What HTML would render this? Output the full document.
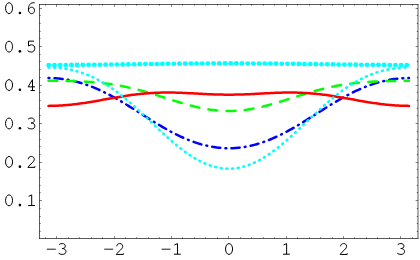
<!DOCTYPE html>
<html><head><meta charset="utf-8"><style>
html,body{margin:0;padding:0;background:#fff;}
body{width:420px;height:260px;overflow:hidden;font-family:"Liberation Mono",monospace;}
svg{display:block;}
</style></head><body>
<svg width="420" height="260" viewBox="0 0 420 260">
<rect width="420" height="260" fill="#fff"/>
<g fill="none" stroke-linejoin="round" stroke-linecap="round">
<path d="M48.52,78.05 L50.02,78.06 L51.52,78.09 L53.02,78.15 L54.52,78.22 L56.03,78.31 L57.53,78.43 L59.03,78.57 L60.53,78.73 L62.03,78.90 L63.54,79.11 L65.04,79.33 L66.54,79.57 L68.04,79.83 L69.54,80.12 L71.05,80.42 L72.55,80.75 L74.05,81.09 L75.55,81.46 L77.05,81.85 L78.56,82.26 L80.06,82.68 L81.56,83.13 L83.06,83.60 L84.56,84.09 L86.07,84.60 L87.57,85.13 L89.07,85.68 L90.57,86.24 L92.07,86.83 L93.58,87.43 L95.08,88.06 L96.58,88.70 L98.08,89.36 L99.58,90.04 L101.08,90.73 L102.59,91.44 L104.09,92.17 L105.59,92.91 L107.09,93.67 L108.59,94.45 L110.10,95.23 L111.60,96.04 L113.10,96.85 L114.60,97.68 L116.10,98.53 L117.61,99.38 L119.11,100.25 L120.61,101.12 L122.11,102.01 L123.61,102.90 L125.12,103.81 L126.62,104.72 L128.12,105.64 L129.62,106.57 L131.12,107.50 L132.63,108.44 L134.13,109.38 L135.63,110.32 L137.13,111.27 L138.63,112.22 L140.14,113.17 L141.64,114.13 L143.14,115.08 L144.64,116.03 L146.14,116.98 L147.65,117.92 L149.15,118.87 L150.65,119.80 L152.15,120.74 L153.65,121.66 L155.15,122.58 L156.66,123.50 L158.16,124.40 L159.66,125.30 L161.16,126.19 L162.66,127.07 L164.17,127.93 L165.67,128.79 L167.17,129.63 L168.67,130.46 L170.17,131.28 L171.68,132.08 L173.18,132.87 L174.68,133.64 L176.18,134.40 L177.68,135.14 L179.19,135.86 L180.69,136.57 L182.19,137.26 L183.69,137.93 L185.19,138.58 L186.70,139.22 L188.20,139.83 L189.70,140.43 L191.20,141.00 L192.70,141.56 L194.21,142.09 L195.71,142.61 L197.21,143.10 L198.71,143.57 L200.21,144.02 L201.72,144.45 L203.22,144.85 L204.72,145.23 L206.22,145.60 L207.72,145.93 L209.22,146.25 L210.73,146.54 L212.23,146.81 L213.73,147.06 L215.23,147.28 L216.73,147.48 L218.24,147.66 L219.74,147.81 L221.24,147.94 L222.74,148.05 L224.24,148.13 L225.75,148.19 L227.25,148.22 L228.75,148.23 L230.25,148.22 L231.75,148.19 L233.26,148.13 L234.76,148.05 L236.26,147.94 L237.76,147.81 L239.26,147.66 L240.77,147.48 L242.27,147.28 L243.77,147.06 L245.27,146.81 L246.77,146.54 L248.28,146.25 L249.78,145.93 L251.28,145.60 L252.78,145.23 L254.28,144.85 L255.78,144.45 L257.29,144.02 L258.79,143.57 L260.29,143.10 L261.79,142.61 L263.29,142.09 L264.80,141.56 L266.30,141.00 L267.80,140.43 L269.30,139.83 L270.80,139.22 L272.31,138.58 L273.81,137.93 L275.31,137.26 L276.81,136.57 L278.31,135.86 L279.82,135.14 L281.32,134.40 L282.82,133.64 L284.32,132.87 L285.82,132.08 L287.33,131.28 L288.83,130.46 L290.33,129.63 L291.83,128.79 L293.33,127.93 L294.84,127.07 L296.34,126.19 L297.84,125.30 L299.34,124.40 L300.84,123.50 L302.35,122.58 L303.85,121.66 L305.35,120.74 L306.85,119.80 L308.35,118.87 L309.85,117.92 L311.36,116.98 L312.86,116.03 L314.36,115.08 L315.86,114.13 L317.36,113.17 L318.87,112.22 L320.37,111.27 L321.87,110.32 L323.37,109.38 L324.87,108.44 L326.38,107.50 L327.88,106.57 L329.38,105.64 L330.88,104.72 L332.38,103.81 L333.89,102.90 L335.39,102.01 L336.89,101.12 L338.39,100.25 L339.89,99.38 L341.40,98.53 L342.90,97.68 L344.40,96.85 L345.90,96.04 L347.40,95.23 L348.91,94.45 L350.41,93.67 L351.91,92.91 L353.41,92.17 L354.91,91.44 L356.42,90.73 L357.92,90.04 L359.42,89.36 L360.92,88.70 L362.42,88.06 L363.92,87.43 L365.43,86.83 L366.93,86.24 L368.43,85.68 L369.93,85.13 L371.43,84.60 L372.94,84.09 L374.44,83.60 L375.94,83.13 L377.44,82.68 L378.94,82.26 L380.45,81.85 L381.95,81.46 L383.45,81.09 L384.95,80.75 L386.45,80.42 L387.96,80.12 L389.46,79.83 L390.96,79.57 L392.46,79.33 L393.96,79.11 L395.47,78.90 L396.97,78.73 L398.47,78.57 L399.97,78.43 L401.47,78.31 L402.98,78.22 L404.48,78.15 L405.98,78.09 L407.48,78.06 L408.98,78.05" stroke="#0000ff" stroke-width="2.5" stroke-dasharray="0.9 5.1 8.2 5.1"/>
<path d="M48.52,80.79 L50.02,80.79 L51.52,80.79 L53.02,80.80 L54.52,80.81 L56.03,80.82 L57.53,80.83 L59.03,80.84 L60.53,80.86 L62.03,80.88 L63.54,80.90 L65.04,80.93 L66.54,80.96 L68.04,80.99 L69.54,81.02 L71.05,81.06 L72.55,81.10 L74.05,81.15 L75.55,81.20 L77.05,81.26 L78.56,81.32 L80.06,81.38 L81.56,81.45 L83.06,81.52 L84.56,81.61 L86.07,81.69 L87.57,81.78 L89.07,81.88 L90.57,81.99 L92.07,82.10 L93.58,82.22 L95.08,82.35 L96.58,82.48 L98.08,82.62 L99.58,82.77 L101.08,82.93 L102.59,83.10 L104.09,83.27 L105.59,83.46 L107.09,83.65 L108.59,83.85 L110.10,84.06 L111.60,84.28 L113.10,84.52 L114.60,84.76 L116.10,85.00 L117.61,85.26 L119.11,85.53 L120.61,85.81 L122.11,86.10 L123.61,86.40 L125.12,86.71 L126.62,87.03 L128.12,87.36 L129.62,87.69 L131.12,88.04 L132.63,88.40 L134.13,88.76 L135.63,89.14 L137.13,89.52 L138.63,89.91 L140.14,90.31 L141.64,90.72 L143.14,91.13 L144.64,91.56 L146.14,91.98 L147.65,92.42 L149.15,92.86 L150.65,93.31 L152.15,93.76 L153.65,94.22 L155.15,94.69 L156.66,95.15 L158.16,95.62 L159.66,96.09 L161.16,96.57 L162.66,97.05 L164.17,97.53 L165.67,98.00 L167.17,98.48 L168.67,98.96 L170.17,99.44 L171.68,99.92 L173.18,100.39 L174.68,100.86 L176.18,101.33 L177.68,101.79 L179.19,102.25 L180.69,102.70 L182.19,103.15 L183.69,103.59 L185.19,104.02 L186.70,104.45 L188.20,104.86 L189.70,105.27 L191.20,105.67 L192.70,106.05 L194.21,106.43 L195.71,106.80 L197.21,107.15 L198.71,107.49 L200.21,107.81 L201.72,108.13 L203.22,108.43 L204.72,108.71 L206.22,108.98 L207.72,109.24 L209.22,109.48 L210.73,109.70 L212.23,109.90 L213.73,110.09 L215.23,110.27 L216.73,110.42 L218.24,110.56 L219.74,110.68 L221.24,110.78 L222.74,110.86 L224.24,110.93 L225.75,110.97 L227.25,111.00 L228.75,111.01 L230.25,111.00 L231.75,110.97 L233.26,110.93 L234.76,110.86 L236.26,110.78 L237.76,110.68 L239.26,110.56 L240.77,110.42 L242.27,110.27 L243.77,110.09 L245.27,109.90 L246.77,109.70 L248.28,109.48 L249.78,109.24 L251.28,108.98 L252.78,108.71 L254.28,108.43 L255.78,108.13 L257.29,107.81 L258.79,107.49 L260.29,107.15 L261.79,106.80 L263.29,106.43 L264.80,106.05 L266.30,105.67 L267.80,105.27 L269.30,104.86 L270.80,104.45 L272.31,104.02 L273.81,103.59 L275.31,103.15 L276.81,102.70 L278.31,102.25 L279.82,101.79 L281.32,101.33 L282.82,100.86 L284.32,100.39 L285.82,99.92 L287.33,99.44 L288.83,98.96 L290.33,98.48 L291.83,98.00 L293.33,97.53 L294.84,97.05 L296.34,96.57 L297.84,96.09 L299.34,95.62 L300.84,95.15 L302.35,94.69 L303.85,94.22 L305.35,93.76 L306.85,93.31 L308.35,92.86 L309.85,92.42 L311.36,91.98 L312.86,91.56 L314.36,91.13 L315.86,90.72 L317.36,90.31 L318.87,89.91 L320.37,89.52 L321.87,89.14 L323.37,88.76 L324.87,88.40 L326.38,88.04 L327.88,87.69 L329.38,87.36 L330.88,87.03 L332.38,86.71 L333.89,86.40 L335.39,86.10 L336.89,85.81 L338.39,85.53 L339.89,85.26 L341.40,85.00 L342.90,84.76 L344.40,84.52 L345.90,84.28 L347.40,84.06 L348.91,83.85 L350.41,83.65 L351.91,83.46 L353.41,83.27 L354.91,83.10 L356.42,82.93 L357.92,82.77 L359.42,82.62 L360.92,82.48 L362.42,82.35 L363.92,82.22 L365.43,82.10 L366.93,81.99 L368.43,81.88 L369.93,81.78 L371.43,81.69 L372.94,81.61 L374.44,81.52 L375.94,81.45 L377.44,81.38 L378.94,81.32 L380.45,81.26 L381.95,81.20 L383.45,81.15 L384.95,81.10 L386.45,81.06 L387.96,81.02 L389.46,80.99 L390.96,80.96 L392.46,80.93 L393.96,80.90 L395.47,80.88 L396.97,80.86 L398.47,80.84 L399.97,80.83 L401.47,80.82 L402.98,80.81 L404.48,80.80 L405.98,80.79 L407.48,80.79 L408.98,80.79" stroke="#00ff00" stroke-width="2.5" stroke-dasharray="8.8 9.36"/>
<path d="M48.52,105.88 L50.02,105.87 L51.52,105.86 L53.02,105.83 L54.52,105.79 L56.03,105.74 L57.53,105.68 L59.03,105.61 L60.53,105.52 L62.03,105.43 L63.54,105.33 L65.04,105.21 L66.54,105.09 L68.04,104.96 L69.54,104.81 L71.05,104.66 L72.55,104.50 L74.05,104.33 L75.55,104.15 L77.05,103.96 L78.56,103.77 L80.06,103.56 L81.56,103.35 L83.06,103.13 L84.56,102.91 L86.07,102.68 L87.57,102.44 L89.07,102.20 L90.57,101.96 L92.07,101.70 L93.58,101.45 L95.08,101.19 L96.58,100.93 L98.08,100.66 L99.58,100.40 L101.08,100.13 L102.59,99.85 L104.09,99.58 L105.59,99.31 L107.09,99.04 L108.59,98.77 L110.10,98.50 L111.60,98.23 L113.10,97.96 L114.60,97.69 L116.10,97.43 L117.61,97.17 L119.11,96.92 L120.61,96.67 L122.11,96.42 L123.61,96.18 L125.12,95.94 L126.62,95.71 L128.12,95.49 L129.62,95.27 L131.12,95.06 L132.63,94.85 L134.13,94.66 L135.63,94.47 L137.13,94.29 L138.63,94.12 L140.14,93.95 L141.64,93.80 L143.14,93.65 L144.64,93.51 L146.14,93.38 L147.65,93.26 L149.15,93.15 L150.65,93.05 L152.15,92.96 L153.65,92.88 L155.15,92.80 L156.66,92.74 L158.16,92.68 L159.66,92.64 L161.16,92.60 L162.66,92.57 L164.17,92.55 L165.67,92.54 L167.17,92.53 L168.67,92.54 L170.17,92.55 L171.68,92.57 L173.18,92.59 L174.68,92.62 L176.18,92.66 L177.68,92.71 L179.19,92.76 L180.69,92.81 L182.19,92.87 L183.69,92.93 L185.19,93.00 L186.70,93.07 L188.20,93.14 L189.70,93.21 L191.20,93.29 L192.70,93.37 L194.21,93.45 L195.71,93.53 L197.21,93.61 L198.71,93.69 L200.21,93.77 L201.72,93.85 L203.22,93.92 L204.72,94.00 L206.22,94.07 L207.72,94.14 L209.22,94.20 L210.73,94.26 L212.23,94.32 L213.73,94.38 L215.23,94.43 L216.73,94.47 L218.24,94.51 L219.74,94.55 L221.24,94.58 L222.74,94.61 L224.24,94.63 L225.75,94.64 L227.25,94.65 L228.75,94.65 L230.25,94.65 L231.75,94.64 L233.26,94.63 L234.76,94.61 L236.26,94.58 L237.76,94.55 L239.26,94.51 L240.77,94.47 L242.27,94.43 L243.77,94.38 L245.27,94.32 L246.77,94.26 L248.28,94.20 L249.78,94.14 L251.28,94.07 L252.78,94.00 L254.28,93.92 L255.78,93.85 L257.29,93.77 L258.79,93.69 L260.29,93.61 L261.79,93.53 L263.29,93.45 L264.80,93.37 L266.30,93.29 L267.80,93.21 L269.30,93.14 L270.80,93.07 L272.31,93.00 L273.81,92.93 L275.31,92.87 L276.81,92.81 L278.31,92.76 L279.82,92.71 L281.32,92.66 L282.82,92.62 L284.32,92.59 L285.82,92.57 L287.33,92.55 L288.83,92.54 L290.33,92.53 L291.83,92.54 L293.33,92.55 L294.84,92.57 L296.34,92.60 L297.84,92.64 L299.34,92.68 L300.84,92.74 L302.35,92.80 L303.85,92.88 L305.35,92.96 L306.85,93.05 L308.35,93.15 L309.85,93.26 L311.36,93.38 L312.86,93.51 L314.36,93.65 L315.86,93.80 L317.36,93.95 L318.87,94.12 L320.37,94.29 L321.87,94.47 L323.37,94.66 L324.87,94.85 L326.38,95.06 L327.88,95.27 L329.38,95.49 L330.88,95.71 L332.38,95.94 L333.89,96.18 L335.39,96.42 L336.89,96.67 L338.39,96.92 L339.89,97.17 L341.40,97.43 L342.90,97.69 L344.40,97.96 L345.90,98.23 L347.40,98.50 L348.91,98.77 L350.41,99.04 L351.91,99.31 L353.41,99.58 L354.91,99.85 L356.42,100.13 L357.92,100.40 L359.42,100.66 L360.92,100.93 L362.42,101.19 L363.92,101.45 L365.43,101.70 L366.93,101.96 L368.43,102.20 L369.93,102.44 L371.43,102.68 L372.94,102.91 L374.44,103.13 L375.94,103.35 L377.44,103.56 L378.94,103.77 L380.45,103.96 L381.95,104.15 L383.45,104.33 L384.95,104.50 L386.45,104.66 L387.96,104.81 L389.46,104.96 L390.96,105.09 L392.46,105.21 L393.96,105.33 L395.47,105.43 L396.97,105.52 L398.47,105.61 L399.97,105.68 L401.47,105.74 L402.98,105.79 L404.48,105.83 L405.98,105.86 L407.48,105.87 L408.98,105.88" stroke="#ff0000" stroke-width="2.5"/>
<path d="M48.52,67.43 L50.02,67.44 L51.52,67.47 L53.02,67.52 L54.52,67.60 L56.03,67.69 L57.53,67.81 L59.03,67.94 L60.53,68.10 L62.03,68.28 L63.54,68.49 L65.04,68.71 L66.54,68.96 L68.04,69.23 L69.54,69.52 L71.05,69.84 L72.55,70.18 L74.05,70.54 L75.55,70.93 L77.05,71.34 L78.56,71.78 L80.06,72.24 L81.56,72.72 L83.06,73.24 L84.56,73.78 L86.07,74.34 L87.57,74.93 L89.07,75.55 L90.57,76.20 L92.07,76.87 L93.58,77.57 L95.08,78.29 L96.58,79.05 L98.08,79.83 L99.58,80.64 L101.08,81.47 L102.59,82.34 L104.09,83.23 L105.59,84.15 L107.09,85.09 L108.59,86.06 L110.10,87.06 L111.60,88.09 L113.10,89.14 L114.60,90.21 L116.10,91.31 L117.61,92.43 L119.11,93.58 L120.61,94.75 L122.11,95.95 L123.61,97.16 L125.12,98.40 L126.62,99.65 L128.12,100.93 L129.62,102.22 L131.12,103.53 L132.63,104.85 L134.13,106.20 L135.63,107.55 L137.13,108.92 L138.63,110.30 L140.14,111.69 L141.64,113.09 L143.14,114.50 L144.64,115.92 L146.14,117.34 L147.65,118.76 L149.15,120.19 L150.65,121.62 L152.15,123.05 L153.65,124.48 L155.15,125.91 L156.66,127.33 L158.16,128.75 L159.66,130.16 L161.16,131.56 L162.66,132.96 L164.17,134.34 L165.67,135.72 L167.17,137.08 L168.67,138.42 L170.17,139.75 L171.68,141.06 L173.18,142.36 L174.68,143.63 L176.18,144.88 L177.68,146.12 L179.19,147.32 L180.69,148.51 L182.19,149.67 L183.69,150.80 L185.19,151.91 L186.70,152.98 L188.20,154.03 L189.70,155.05 L191.20,156.04 L192.70,156.99 L194.21,157.91 L195.71,158.80 L197.21,159.66 L198.71,160.48 L200.21,161.26 L201.72,162.01 L203.22,162.72 L204.72,163.39 L206.22,164.02 L207.72,164.62 L209.22,165.18 L210.73,165.69 L212.23,166.17 L213.73,166.61 L215.23,167.01 L216.73,167.36 L218.24,167.68 L219.74,167.95 L221.24,168.18 L222.74,168.37 L224.24,168.52 L225.75,168.62 L227.25,168.69 L228.75,168.71 L230.25,168.69 L231.75,168.62 L233.26,168.52 L234.76,168.37 L236.26,168.18 L237.76,167.95 L239.26,167.68 L240.77,167.36 L242.27,167.01 L243.77,166.61 L245.27,166.17 L246.77,165.69 L248.28,165.18 L249.78,164.62 L251.28,164.02 L252.78,163.39 L254.28,162.72 L255.78,162.01 L257.29,161.26 L258.79,160.48 L260.29,159.66 L261.79,158.80 L263.29,157.91 L264.80,156.99 L266.30,156.04 L267.80,155.05 L269.30,154.03 L270.80,152.98 L272.31,151.91 L273.81,150.80 L275.31,149.67 L276.81,148.51 L278.31,147.32 L279.82,146.12 L281.32,144.88 L282.82,143.63 L284.32,142.36 L285.82,141.06 L287.33,139.75 L288.83,138.42 L290.33,137.08 L291.83,135.72 L293.33,134.34 L294.84,132.96 L296.34,131.56 L297.84,130.16 L299.34,128.75 L300.84,127.33 L302.35,125.91 L303.85,124.48 L305.35,123.05 L306.85,121.62 L308.35,120.19 L309.85,118.76 L311.36,117.34 L312.86,115.92 L314.36,114.50 L315.86,113.09 L317.36,111.69 L318.87,110.30 L320.37,108.92 L321.87,107.55 L323.37,106.20 L324.87,104.85 L326.38,103.53 L327.88,102.22 L329.38,100.93 L330.88,99.65 L332.38,98.40 L333.89,97.16 L335.39,95.95 L336.89,94.75 L338.39,93.58 L339.89,92.43 L341.40,91.31 L342.90,90.21 L344.40,89.14 L345.90,88.09 L347.40,87.06 L348.91,86.06 L350.41,85.09 L351.91,84.15 L353.41,83.23 L354.91,82.34 L356.42,81.47 L357.92,80.64 L359.42,79.83 L360.92,79.05 L362.42,78.29 L363.92,77.57 L365.43,76.87 L366.93,76.20 L368.43,75.55 L369.93,74.93 L371.43,74.34 L372.94,73.78 L374.44,73.24 L375.94,72.72 L377.44,72.24 L378.94,71.78 L380.45,71.34 L381.95,70.93 L383.45,70.54 L384.95,70.18 L386.45,69.84 L387.96,69.52 L389.46,69.23 L390.96,68.96 L392.46,68.71 L393.96,68.49 L395.47,68.28 L396.97,68.10 L398.47,67.94 L399.97,67.81 L401.47,67.69 L402.98,67.60 L404.48,67.52 L405.98,67.47 L407.48,67.44 L408.98,67.43" stroke="#00ffff" stroke-width="2.6" stroke-dasharray="0.9 4.78"/>
</g>
<g fill="#00ffff" stroke="none">
<ellipse cx="48.75" cy="64.98" rx="2.5" ry="2.3"/><ellipse cx="54.43" cy="64.98" rx="2.5" ry="2.3"/><ellipse cx="60.12" cy="64.97" rx="2.5" ry="2.3"/><ellipse cx="65.80" cy="64.95" rx="2.5" ry="2.3"/><ellipse cx="71.49" cy="64.92" rx="2.5" ry="2.3"/><ellipse cx="77.17" cy="64.89" rx="2.5" ry="2.3"/><ellipse cx="82.85" cy="64.84" rx="2.5" ry="2.3"/><ellipse cx="88.54" cy="64.80" rx="2.5" ry="2.3"/><ellipse cx="94.22" cy="64.74" rx="2.5" ry="2.3"/><ellipse cx="99.91" cy="64.68" rx="2.5" ry="2.3"/><ellipse cx="105.59" cy="64.62" rx="2.5" ry="2.3"/><ellipse cx="111.27" cy="64.55" rx="2.5" ry="2.3"/><ellipse cx="116.96" cy="64.48" rx="2.5" ry="2.3"/><ellipse cx="122.64" cy="64.41" rx="2.5" ry="2.3"/><ellipse cx="128.33" cy="64.33" rx="2.5" ry="2.3"/><ellipse cx="134.01" cy="64.25" rx="2.5" ry="2.3"/><ellipse cx="139.69" cy="64.17" rx="2.5" ry="2.3"/><ellipse cx="145.38" cy="64.10" rx="2.5" ry="2.3"/><ellipse cx="151.06" cy="64.02" rx="2.5" ry="2.3"/><ellipse cx="156.75" cy="63.94" rx="2.5" ry="2.3"/><ellipse cx="162.43" cy="63.87" rx="2.5" ry="2.3"/><ellipse cx="168.11" cy="63.80" rx="2.5" ry="2.3"/><ellipse cx="173.80" cy="63.73" rx="2.5" ry="2.3"/><ellipse cx="179.48" cy="63.67" rx="2.5" ry="2.3"/><ellipse cx="185.17" cy="63.61" rx="2.5" ry="2.3"/><ellipse cx="190.85" cy="63.56" rx="2.5" ry="2.3"/><ellipse cx="196.53" cy="63.52" rx="2.5" ry="2.3"/><ellipse cx="202.22" cy="63.48" rx="2.5" ry="2.3"/><ellipse cx="207.90" cy="63.45" rx="2.5" ry="2.3"/><ellipse cx="213.59" cy="63.42" rx="2.5" ry="2.3"/><ellipse cx="219.27" cy="63.40" rx="2.5" ry="2.3"/><ellipse cx="224.95" cy="63.40" rx="2.5" ry="2.3"/><ellipse cx="230.64" cy="63.39" rx="2.5" ry="2.3"/><ellipse cx="236.32" cy="63.40" rx="2.5" ry="2.3"/><ellipse cx="242.01" cy="63.42" rx="2.5" ry="2.3"/><ellipse cx="247.69" cy="63.44" rx="2.5" ry="2.3"/><ellipse cx="253.37" cy="63.47" rx="2.5" ry="2.3"/><ellipse cx="259.06" cy="63.50" rx="2.5" ry="2.3"/><ellipse cx="264.74" cy="63.55" rx="2.5" ry="2.3"/><ellipse cx="270.43" cy="63.59" rx="2.5" ry="2.3"/><ellipse cx="276.11" cy="63.65" rx="2.5" ry="2.3"/><ellipse cx="281.79" cy="63.71" rx="2.5" ry="2.3"/><ellipse cx="287.48" cy="63.78" rx="2.5" ry="2.3"/><ellipse cx="293.16" cy="63.84" rx="2.5" ry="2.3"/><ellipse cx="298.85" cy="63.92" rx="2.5" ry="2.3"/><ellipse cx="304.53" cy="63.99" rx="2.5" ry="2.3"/><ellipse cx="310.21" cy="64.07" rx="2.5" ry="2.3"/><ellipse cx="315.90" cy="64.15" rx="2.5" ry="2.3"/><ellipse cx="321.58" cy="64.23" rx="2.5" ry="2.3"/><ellipse cx="327.27" cy="64.30" rx="2.5" ry="2.3"/><ellipse cx="332.95" cy="64.38" rx="2.5" ry="2.3"/><ellipse cx="338.63" cy="64.46" rx="2.5" ry="2.3"/><ellipse cx="344.32" cy="64.53" rx="2.5" ry="2.3"/><ellipse cx="350.00" cy="64.60" rx="2.5" ry="2.3"/><ellipse cx="355.69" cy="64.66" rx="2.5" ry="2.3"/><ellipse cx="361.37" cy="64.72" rx="2.5" ry="2.3"/><ellipse cx="367.05" cy="64.78" rx="2.5" ry="2.3"/><ellipse cx="372.74" cy="64.83" rx="2.5" ry="2.3"/><ellipse cx="378.42" cy="64.87" rx="2.5" ry="2.3"/><ellipse cx="384.11" cy="64.91" rx="2.5" ry="2.3"/><ellipse cx="389.79" cy="64.94" rx="2.5" ry="2.3"/><ellipse cx="395.47" cy="64.96" rx="2.5" ry="2.3"/><ellipse cx="401.16" cy="64.98" rx="2.5" ry="2.3"/><ellipse cx="406.84" cy="64.98" rx="2.5" ry="2.3"/>
</g>
<g fill="none" stroke="#000" stroke-width="0.65">
<path d="M39.5,4.175 V238.825"/><path d="M418.0,4.175 V238.825"/><path d="M39.175,4.5 H418.325"/><path d="M39.175,238.5 H418.325"/>
<path d="M45.50,238.5 v-1.25 M45.50,4.5 v1.25 M56.50,238.5 v-2.4 M56.50,4.5 v2.4 M68.50,238.5 v-1.25 M68.50,4.5 v1.25 M79.50,238.5 v-1.25 M79.50,4.5 v1.25 M91.50,238.5 v-1.25 M91.50,4.5 v1.25 M102.50,238.5 v-1.25 M102.50,4.5 v1.25 M114.50,238.5 v-2.4 M114.50,4.5 v2.4 M125.50,238.5 v-1.25 M125.50,4.5 v1.25 M136.50,238.5 v-1.25 M136.50,4.5 v1.25 M148.50,238.5 v-1.25 M148.50,4.5 v1.25 M159.50,238.5 v-1.25 M159.50,4.5 v1.25 M171.50,238.5 v-2.4 M171.50,4.5 v2.4 M182.50,238.5 v-1.25 M182.50,4.5 v1.25 M194.50,238.5 v-1.25 M194.50,4.5 v1.25 M205.50,238.5 v-1.25 M205.50,4.5 v1.25 M217.50,238.5 v-1.25 M217.50,4.5 v1.25 M228.50,238.5 v-2.4 M228.50,4.5 v2.4 M240.50,238.5 v-1.25 M240.50,4.5 v1.25 M251.50,238.5 v-1.25 M251.50,4.5 v1.25 M263.50,238.5 v-1.25 M263.50,4.5 v1.25 M274.50,238.5 v-1.25 M274.50,4.5 v1.25 M286.50,238.5 v-2.4 M286.50,4.5 v2.4 M297.50,238.5 v-1.25 M297.50,4.5 v1.25 M309.50,238.5 v-1.25 M309.50,4.5 v1.25 M320.50,238.5 v-1.25 M320.50,4.5 v1.25 M332.50,238.5 v-1.25 M332.50,4.5 v1.25 M343.50,238.5 v-2.4 M343.50,4.5 v2.4 M354.50,238.5 v-1.25 M354.50,4.5 v1.25 M366.50,238.5 v-1.25 M366.50,4.5 v1.25 M377.50,238.5 v-1.25 M377.50,4.5 v1.25 M389.50,238.5 v-1.25 M389.50,4.5 v1.25 M400.50,238.5 v-2.4 M400.50,4.5 v2.4 M412.50,238.5 v-1.25 M412.50,4.5 v1.25 M39.5,231.50 h1.25 M418.0,231.50 h-1.25 M39.5,223.50 h1.25 M418.0,223.50 h-1.25 M39.5,216.50 h1.25 M418.0,216.50 h-1.25 M39.5,208.50 h1.25 M418.0,208.50 h-1.25 M39.5,200.50 h2.4 M418.0,200.50 h-2.4 M39.5,192.50 h1.25 M418.0,192.50 h-1.25 M39.5,185.50 h1.25 M418.0,185.50 h-1.25 M39.5,177.50 h1.25 M418.0,177.50 h-1.25 M39.5,169.50 h1.25 M418.0,169.50 h-1.25 M39.5,162.50 h2.4 M418.0,162.50 h-2.4 M39.5,154.50 h1.25 M418.0,154.50 h-1.25 M39.5,146.50 h1.25 M418.0,146.50 h-1.25 M39.5,139.50 h1.25 M418.0,139.50 h-1.25 M39.5,131.50 h1.25 M418.0,131.50 h-1.25 M39.5,123.50 h2.4 M418.0,123.50 h-2.4 M39.5,115.50 h1.25 M418.0,115.50 h-1.25 M39.5,108.50 h1.25 M418.0,108.50 h-1.25 M39.5,100.50 h1.25 M418.0,100.50 h-1.25 M39.5,92.50 h1.25 M418.0,92.50 h-1.25 M39.5,85.50 h2.4 M418.0,85.50 h-2.4 M39.5,77.50 h1.25 M418.0,77.50 h-1.25 M39.5,69.50 h1.25 M418.0,69.50 h-1.25 M39.5,61.50 h1.25 M418.0,61.50 h-1.25 M39.5,54.50 h1.25 M418.0,54.50 h-1.25 M39.5,46.50 h2.4 M418.0,46.50 h-2.4 M39.5,38.50 h1.25 M418.0,38.50 h-1.25 M39.5,31.50 h1.25 M418.0,31.50 h-1.25 M39.5,23.50 h1.25 M418.0,23.50 h-1.25 M39.5,15.50 h1.25 M418.0,15.50 h-1.25 M39.5,8.50 h2.4 M418.0,8.50 h-2.4" stroke-width="0.5"/>
</g>
<g fill="none" stroke="#000" stroke-width="1.0" stroke-linecap="butt" stroke-linejoin="round">
<g transform="translate(51.34,255.00)"><path d="M-4.45,-5.8 H4.45" stroke-width="0.9"/></g>
<g transform="translate(62.54,255.00)"><path d="M-3.4,-10.4 C-2.6,-11.1 -1.5,-11.45 -0.3,-11.45 C1.6,-11.45 2.8,-10.4 2.8,-8.9 C2.8,-7.4 1.6,-6.5 -0.4,-6.5 C2.0,-6.5 3.4,-5.2 3.4,-3.4 C3.4,-1.7 2.0,-0.55 -0.2,-0.55 C-1.7,-0.55 -3.0,-1.0 -3.9,-1.8"/></g>
<g transform="translate(108.71,255.00)"><path d="M-4.45,-5.8 H4.45" stroke-width="0.9"/></g>
<g transform="translate(119.91,255.00)"><path d="M-3.2,-8.7 C-3.2,-10.4 -1.9,-11.45 -0.2,-11.45 C1.6,-11.45 2.8,-10.3 2.8,-8.7 C2.8,-7.4 2.0,-6.4 0.7,-5.1 L-3.6,-0.9 V-0.55 H3.4 V-1.7"/></g>
<g transform="translate(166.08,255.00)"><path d="M-4.45,-5.8 H4.45" stroke-width="0.9"/></g>
<g transform="translate(177.28,255.00)"><path d="M0.2,-0.8 V-11.4 L-2.9,-10.0 M-3.4,-0.8 H3.4"/></g>
<g transform="translate(229.05,255.00)"><ellipse cx="0" cy="-6" rx="3.5" ry="5.45"/></g>
<g transform="translate(286.42,255.00)"><path d="M0.2,-0.8 V-11.4 L-2.9,-10.0 M-3.4,-0.8 H3.4"/></g>
<g transform="translate(343.79,255.00)"><path d="M-3.2,-8.7 C-3.2,-10.4 -1.9,-11.45 -0.2,-11.45 C1.6,-11.45 2.8,-10.3 2.8,-8.7 C2.8,-7.4 2.0,-6.4 0.7,-5.1 L-3.6,-0.9 V-0.55 H3.4 V-1.7"/></g>
<g transform="translate(401.16,255.00)"><path d="M-3.4,-10.4 C-2.6,-11.1 -1.5,-11.45 -0.3,-11.45 C1.6,-11.45 2.8,-10.4 2.8,-8.9 C2.8,-7.4 1.6,-6.5 -0.4,-6.5 C2.0,-6.5 3.4,-5.2 3.4,-3.4 C3.4,-1.7 2.0,-0.55 -0.2,-0.55 C-1.7,-0.55 -3.0,-1.0 -3.9,-1.8"/></g>
<g transform="translate(9.05,206.34)"><ellipse cx="0" cy="-6" rx="3.5" ry="5.45"/></g>
<g transform="translate(19.90,206.34)"><circle cx="0" cy="-1.25" r="1.3" fill="#000" stroke="none"/></g>
<g transform="translate(31.50,206.34)"><path d="M0.2,-0.8 V-11.4 L-2.9,-10.0 M-3.4,-0.8 H3.4"/></g>
<g transform="translate(9.05,167.91)"><ellipse cx="0" cy="-6" rx="3.5" ry="5.45"/></g>
<g transform="translate(19.90,167.91)"><circle cx="0" cy="-1.25" r="1.3" fill="#000" stroke="none"/></g>
<g transform="translate(31.50,167.91)"><path d="M-3.2,-8.7 C-3.2,-10.4 -1.9,-11.45 -0.2,-11.45 C1.6,-11.45 2.8,-10.3 2.8,-8.7 C2.8,-7.4 2.0,-6.4 0.7,-5.1 L-3.6,-0.9 V-0.55 H3.4 V-1.7"/></g>
<g transform="translate(9.05,129.47)"><ellipse cx="0" cy="-6" rx="3.5" ry="5.45"/></g>
<g transform="translate(19.90,129.47)"><circle cx="0" cy="-1.25" r="1.3" fill="#000" stroke="none"/></g>
<g transform="translate(31.50,129.47)"><path d="M-3.4,-10.4 C-2.6,-11.1 -1.5,-11.45 -0.3,-11.45 C1.6,-11.45 2.8,-10.4 2.8,-8.9 C2.8,-7.4 1.6,-6.5 -0.4,-6.5 C2.0,-6.5 3.4,-5.2 3.4,-3.4 C3.4,-1.7 2.0,-0.55 -0.2,-0.55 C-1.7,-0.55 -3.0,-1.0 -3.9,-1.8"/></g>
<g transform="translate(9.05,91.05)"><ellipse cx="0" cy="-6" rx="3.5" ry="5.45"/></g>
<g transform="translate(19.90,91.05)"><circle cx="0" cy="-1.25" r="1.3" fill="#000" stroke="none"/></g>
<g transform="translate(31.50,91.05)"><path d="M1.0,-0.55 V-11.45 L-3.4,-4.2 H3.5 M-1.0,-0.55 H3.4"/></g>
<g transform="translate(9.05,52.62)"><ellipse cx="0" cy="-6" rx="3.5" ry="5.45"/></g>
<g transform="translate(19.90,52.62)"><circle cx="0" cy="-1.25" r="1.3" fill="#000" stroke="none"/></g>
<g transform="translate(31.50,52.62)"><path d="M2.6,-11.45 H-3.0 V-6.6 C-2.0,-7.4 -1.0,-7.8 0,-7.8 C2.0,-7.8 3.3,-6.3 3.3,-4.2 C3.3,-2.0 1.8,-0.55 -0.3,-0.55 C-1.8,-0.55 -3.0,-1.1 -3.9,-2.0"/></g>
<g transform="translate(9.05,14.19)"><ellipse cx="0" cy="-6" rx="3.5" ry="5.45"/></g>
<g transform="translate(19.90,14.19)"><circle cx="0" cy="-1.25" r="1.3" fill="#000" stroke="none"/></g>
<g transform="translate(31.50,14.19)"><path d="M3.2,-11.2 C2.8,-11.4 2.2,-11.45 1.6,-11.45 C-1.1,-11.45 -3.1,-8.8 -3.1,-5.2 C-3.1,-2.2 -1.9,-0.55 0,-0.55 C1.8,-0.55 3.0,-1.9 3.0,-3.8 C3.0,-5.7 1.8,-7.0 0.1,-7.0 C-1.4,-7.0 -2.6,-5.9 -3.1,-4.4"/></g>
</g>
</svg>
</body></html>
